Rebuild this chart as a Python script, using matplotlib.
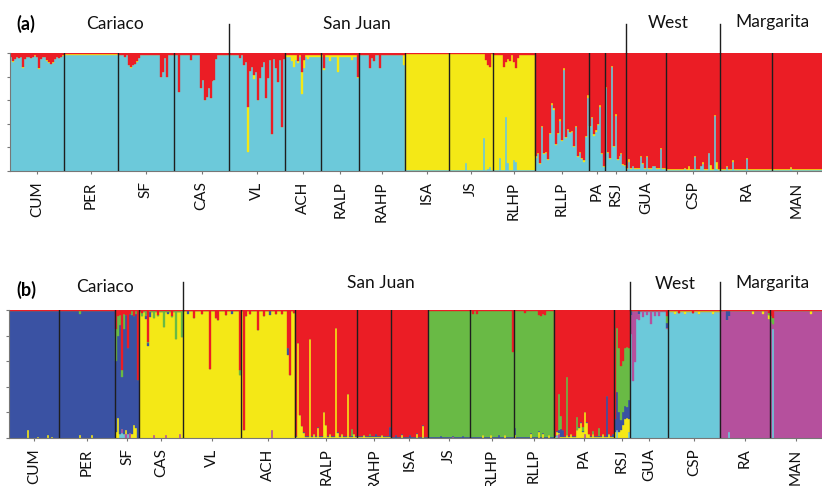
import numpy as np
import matplotlib
matplotlib.use("Agg")
import matplotlib.pyplot as plt
from matplotlib.transforms import blended_transform_factory

plt.rcParams['font.family'] = ['Lato', 'DejaVu Sans']

# ---------------- DATA ----------------
POPS = ['CUM', 'PER', 'SF', 'CAS', 'VL', 'ACH', 'RALP', 'RAHP', 'ISA', 'JS',
        'RLHP', 'RLLP', 'PA', 'RSJ', 'GUA', 'CSP', 'RA', 'MAN']
GROUPS = ['Cariaco', 'San Juan', 'West', 'Margarita']
GROUP_BREAKS = ['VL', 'GUA', 'RA']          # first population of groups 2..4

# ---- panel (a): K = 3 ----
ORDER_A = ['c', 'y', 'r']                   # stacking order, bottom -> top
COLORS_A = {'c': '#6CC9DA', 'y': '#F4E816', 'r': '#EB1D25'}
N_A = [27, 27, 28, 28, 28, 18, 19, 23, 22, 22, 21, 27, 8, 11, 20, 27, 26, 25]
MAIN_A = ['c', 'c', 'c', 'c', 'c', 'c', 'c', 'c', 'y', 'y', 'y',
          'r', 'r', 'r', 'r', 'r', 'r', 'r']
BASE_A = {
    'CUM': {'r': 0.03, 'y': 0.005}, 'PER': {'r': 0.01, 'y': 0.005},
    'SF': {'r': 0.015, 'y': 0.005}, 'CAS': {'r': 0.02}, 'VL': {'r': 0.02},
    'ACH': {'r': 0.02, 'y': 0.015}, 'RALP': {'r': 0.02, 'y': 0.01},
    'RAHP': {'r': 0.02}, 'ISA': {'r': 0.012, 'c': 0.01},
    'JS': {'r': 0.012, 'c': 0.01}, 'RLHP': {'r': 0.015, 'c': 0.01},
    'RLLP': {'c': 0.04, 'y': 0.01}, 'PA': {'c': 0.05, 'y': 0.01},
    'RSJ': {'c': 0.04, 'y': 0.01}, 'GUA': {'c': 0.02, 'y': 0.005},
    'CSP': {'c': 0.01, 'y': 0.005}, 'RA': {'c': 0.005, 'y': 0.01},
    'MAN': {'c': 0.005, 'y': 0.01},
}
ADMIX_A = {
    'CUM': [(1, 'r', .07), (2, 'r', .05), (4, 'r', .04), (6, 'r', .12), (7, 'r', .05),
            (10, 'r', .04), (12, 'r', .02), (14, 'r', .13), (15, 'r', .05), (18, 'r', .06),
            (19, 'r', .08), (20, 'r', .09), (21, 'r', .08), (22, 'r', .05), (24, 'r', .04),
            (26, 'r', .02)],
    'SF': [(3, 'r', .03), (5, 'r', .10), (6, 'r', .12), (7, 'r', .10), (8, 'r', .09),
           (9, 'r', .07), (10, 'r', .04), (21, 'r', .20), (22, 'r', .16), (23, 'r', .04),
           (24, 'r', .20)],
    'CAS': [(2, 'r', .33), (8, 'r', .06), (13, 'r', .30), (14, 'r', .23), (15, 'r', .40),
            (16, 'r', .37), (17, 'r', .30), (18, 'r', .38), (19, 'r', .24), (20, 'r', .23),
            (21, 'r', .05)],
    'VL': [(5, 'r', .04), (7, 'r', .10), (8, 'r', .08), (9, 'r', .46), (9, 'y', .38),
           (10, 'r', .15), (11, 'r', .12), (12, 'r', .19), (12, 'y', .03), (13, 'r', .16),
           (14, 'r', .40), (15, 'r', .21), (16, 'r', .12), (17, 'r', .08), (18, 'r', .38),
           (19, 'r', .21), (20, 'r', .06), (21, 'r', .69), (22, 'r', .05), (23, 'r', .13),
           (24, 'r', .25), (25, 'r', .06), (26, 'r', .63), (27, 'r', .05)],
    'ACH': [(3, 'y', .05), (4, 'y', .10), (5, 'y', .04), (6, 'r', .07), (8, 'r', .16),
            (8, 'y', .19), (9, 'r', .06), (9, 'y', .07), (11, 'y', .03)],
    'RALP': [(1, 'r', .13), (4, 'y', .05), (8, 'y', .14), (15, 'y', .04), (18, 'r', .20)],
    'RAHP': [(5, 'r', .13), (6, 'r', .04), (7, 'r', .07), (10, 'r', .13), (22, 'y', .08)],
    'JS': [(8, 'c', .07), (17, 'c', .28), (18, 'r', .06), (19, 'r', .10), (19, 'c', .02),
           (20, 'r', .12), (20, 'c', .03)],
    'RLHP': [(3, 'c', .11), (5, 'r', .12), (6, 'c', .46), (6, 'r', .08), (7, 'c', .07),
             (7, 'r', .05), (8, 'r', .07), (10, 'r', .08), (10, 'c', .09), (11, 'r', .13),
             (11, 'c', .08), (12, 'r', .04)],
    'RLLP': [(0, 'c', .11), (1, 'c', .14), (2, 'c', .06), (3, 'c', .37), (4, 'c', .14),
             (5, 'c', .15), (6, 'c', .09), (7, 'c', .31), (8, 'c', .56), (9, 'c', .52),
             (10, 'c', .22), (11, 'c', .31), (12, 'c', .42), (13, 'c', .25), (14, 'c', .86),
             (15, 'c', .28), (16, 'c', .35), (17, 'c', .32), (18, 'c', .33), (19, 'c', .20),
             (20, 'c', .37), (21, 'c', .12), (22, 'c', .15), (23, 'c', .10), (24, 'c', .08),
             (25, 'c', .29), (26, 'c', .62), (0, 'y', .02), (8, 'y', .02), (12, 'y', .02),
             (26, 'y', .02)],
    'PA': [(0, 'c', .37), (1, 'c', .45), (2, 'c', .30), (3, 'c', .33), (4, 'c', .39),
           (5, 'c', .54), (6, 'c', .14), (7, 'c', .03), (5, 'y', .02), (3, 'y', .02)],
    'RSJ': [(0, 'c', .70), (1, 'c', .15), (2, 'c', .10), (3, 'c', .88), (4, 'c', .20),
            (5, 'c', .47), (6, 'c', .09), (7, 'c', .12), (8, 'c', .14), (9, 'c', .05),
            (10, 'c', .04)],
    'GUA': [(1, 'c', .08), (1, 'y', .02), (3, 'c', .04), (7, 'c', .12), (8, 'c', .06),
            (10, 'c', .12), (13, 'c', .04), (14, 'c', .04), (17, 'c', .19)],
    'CSP': [(9, 'c', .02), (11, 'y', .03), (14, 'c', .12), (17, 'c', .04), (18, 'c', .06),
            (18, 'y', .02), (21, 'c', .15), (22, 'y', .04), (24, 'c', .47), (25, 'y', .06),
            (25, 'c', .02)],
    'RA': [(3, 'c', .03), (6, 'c', .08), (13, 'c', .10)],
    'MAN': [(9, 'c', .02)],
}

# ---- panel (b): K = 6 ----
ORDER_B = ['c', 'p', 'y', 'b', 'g', 'r']    # stacking order, bottom -> top
COLORS_B = {'c': '#6CC9DA', 'p': '#B5509D', 'y': '#F4E816', 'b': '#3A52A3',
            'g': '#69BA45', 'r': '#EB1D25'}
N_B = [25, 28, 12, 22, 29, 27, 31, 17, 18, 21, 22, 20, 30, 8, 19, 26, 25, 26]
MAIN_B = ['b', 'b', 'b', 'y', 'y', 'y', 'r', 'r', 'r', 'g', 'g', 'g',
          'r', 'r', 'c', 'c', 'p', 'p']
BASE_B = {
    'CUM': {'r': 0.008}, 'PER': {'r': 0.008}, 'SF': {'r': 0.01},
    'CAS': {'r': 0.01, 'g': 0.005}, 'VL': {'r': 0.01}, 'ACH': {'r': 0.01},
    'RALP': {'y': 0.01, 'b': 0.003}, 'RAHP': {'y': 0.008, 'b': 0.005},
    'ISA': {'b': 0.008}, 'JS': {'b': 0.008, 'r': 0.006},
    'RLHP': {'b': 0.006, 'r': 0.008}, 'RLLP': {'b': 0.006, 'r': 0.008},
    'PA': {'y': 0.01, 'b': 0.005}, 'RSJ': {},
    'GUA': {'r': 0.008, 'p': 0.01}, 'CSP': {'r': 0.008, 'y': 0.004},
    'RA': {'r': 0.008}, 'MAN': {'r': 0.008},
}
ADMIX_B = {
    'CUM': [(9, 'y', .06), (14, 'y', .01), (19, 'y', .02), (21, 'y', .01)],
    'PER': [(10, 'g', .02), (10, 'y', .02), (16, 'y', .02)],
    'SF': [(0, 'r', .15), (0, 'g', .25), (0, 'y', .05), (1, 'r', .05), (1, 'g', .15),
           (1, 'y', .16), (2, 'r', .04), (2, 'g', .08), (2, 'c', .03), (3, 'r', .47),
           (3, 'g', .05), (3, 'c', .04), (3, 'p', .03), (4, 'g', .12), (4, 'r', .03),
           (4, 'c', .03), (5, 'r', .04), (5, 'p', .03), (5, 'y', .03), (6, 'r', .30),
           (6, 'c', .03), (7, 'r', .03), (7, 'p', .04), (8, 'g', .03), (8, 'y', .03),
           (9, 'r', .05), (9, 'y', .10), (10, 'y', .08), (10, 'g', .02), (11, 'r', .55)],
    'CAS': [(1, 'g', .03), (1, 'r', .02), (3, 'b', .02), (3, 'g', .04), (4, 'r', .25),
            (4, 'b', .03), (5, 'b', .04), (7, 'g', .05), (7, 'p', .02), (9, 'r', .04),
            (12, 'g', .12), (13, 'p', .02), (14, 'b', .02), (16, 'r', .05), (18, 'g', .22),
            (20, 'p', .03), (21, 'g', .20)],
    'VL': [(2, 'b', .02), (5, 'r', .06), (9, 'r', .03), (13, 'r', .46), (16, 'r', .06),
           (17, 'r', .08), (21, 'r', .04), (24, 'b', .02), (28, 'r', .47), (28, 'g', .04)],
    'ACH': [(1, 'r', .94), (2, 'r', .05), (4, 'r', .03), (8, 'r', .16), (11, 'r', .05),
            (14, 'b', .03), (15, 'p', .06), (17, 'r', .03), (20, 'r', .03), (23, 'r', .30),
            (23, 'b', .05), (24, 'r', .51), (26, 'r', .02)],
    'RALP': [(1, 'y', .74), (2, 'y', .18), (3, 'y', .09), (4, 'y', .04), (7, 'y', .77),
             (9, 'y', .03), (11, 'y', .08), (14, 'y', .20), (15, 'y', .10), (17, 'y', .03),
             (20, 'y', .86), (21, 'y', .04), (23, 'y', .03), (26, 'y', .34), (28, 'g', .06),
             (29, 'y', .03)],
    'RAHP': [(3, 'y', .02), (6, 'g', .02), (9, 'b', .02), (12, 'y', .02), (16, 'b', .08)],
    'ISA': [(2, 'b', .02), (5, 'y', .02), (9, 'b', .02), (12, 'y', .03), (15, 'y', .09)],
    'JS': [(6, 'b', .015), (12, 'p', .01), (17, 'b', .015)],
    'RLHP': [(1, 'r', .03), (3, 'r', .03), (6, 'y', .02), (10, 'y', .02), (14, 'b', .02),
             (17, 'y', .02), (21, 'r', .33)],
    'RLLP': [(0, 'b', .06), (0, 'y', .02), (5, 'r', .02), (8, 'y', .03), (12, 'r', .04),
             (12, 'y', .05), (13, 'r', .05), (14, 'r', .03), (14, 'y', .03), (15, 'r', .04),
             (17, 'y', .02)],
    'PA': [(1, 'y', .03), (1, 'c', .02), (2, 'g', .28), (2, 'p', .03), (2, 'b', .02),
           (3, 'g', .10), (3, 'b', .06), (4, 'b', .05), (6, 'g', .45), (6, 'y', .02),
           (8, 'y', .03), (11, 'g', .10), (11, 'y', .06), (12, 'y', .08), (13, 'y', .12),
           (14, 'y', .05), (14, 'g', .03), (15, 'y', .17), (15, 'p', .03), (16, 'y', .12),
           (17, 'y', .03), (19, 'y', .03), (19, 'g', .02), (22, 'g', .06), (24, 'y', .03),
           (26, 'b', .32), (27, 'y', .03), (29, 'b', .02)],
    'RSJ': [(0, 'b', .10), (0, 'y', .05), (1, 'c', .06), (1, 'b', .30), (1, 'g', .50),
            (2, 'y', .05), (2, 'b', .15), (2, 'g', .50), (3, 'y', .06), (3, 'b', .08),
            (3, 'g', .42), (4, 'y', .10), (4, 'b', .10), (4, 'g', .40), (5, 'y', .15),
            (5, 'b', .10), (5, 'g', .45), (6, 'y', .16), (6, 'b', .08), (6, 'g', .47),
            (7, 'y', .10), (7, 'b', .15), (7, 'g', .40), (7, 'c', .05)],
    'GUA': [(0, 'p', .15), (0, 'b', .03), (1, 'p', .55), (2, 'p', .40), (3, 'p', .06),
            (4, 'p', .05), (4, 'b', .02), (6, 'p', .05), (8, 'p', .03), (10, 'p', .10),
            (12, 'p', .04), (14, 'p', .04), (18, 'r', .05), (18, 'g', .05), (18, 'b', .04)],
    'CSP': [(3, 'y', .02), (5, 'r', .02), (8, 'y', .02), (12, 'r', .02), (15, 'y', .02),
            (22, 'y', .02)],
    'RA': [(3, 'b', .07), (4, 'c', .05), (4, 'b', .04), (16, 'y', .02), (21, 'y', .02),
           (24, 'y', .03), (24, 'g', .02), (24, 'r', .02)],
    'MAN': [(0, 'r', .05), (0, 'g', .04), (1, 'c', .85), (1, 'g', .05), (1, 'r', .06),
            (20, 'y', .02)],
}


# ---------------- BUILD Q MATRICES ----------------
def build(counts, main, base, admix, order):
    Q = {k: [] for k in order}
    for p, n, m in zip(POPS, counts, main):
        spikes = {}
        for i, k, q in admix.get(p, []):
            spikes.setdefault(i, {})[k] = q
        for i in range(n):
            row = dict(base.get(p, {}))
            row.update(spikes.get(i, {}))
            row.pop(m, None)
            row[m] = max(0.0, 1.0 - sum(row.values()))
            for k in order:
                Q[k].append(row.get(k, 0.0))
    return {k: np.array(v) for k, v in Q.items()}


def draw_panel(ax, counts, main, base, admix, order, colors):
    Q = build(counts, main, base, admix, order)
    N = sum(counts)
    x = np.arange(N)
    bottom = np.zeros(N)
    for k in order:
        ax.bar(x, Q[k], bottom=bottom, width=1.0, align='edge', color=colors[k],
               edgecolor=colors[k], linewidth=0.25)
        bottom += Q[k]
    edges = np.cumsum([0] + counts)
    for e in edges[1:-1]:
        ax.axvline(e, color='#1e1e1e', lw=1.0, zorder=5)
    centers = (edges[:-1] + edges[1:]) / 2
    ax.set_xlim(0, N)
    ax.set_ylim(0, 1)
    ax.set_xticks(centers)
    ax.set_xticklabels(POPS, rotation=90, fontsize=11, color='#111111')
    ax.set_yticks(np.arange(0, 1.01, 0.2))
    ax.set_yticklabels([])
    ax.tick_params(axis='x', length=2.5, width=0.8, color='#777777', pad=5)
    ax.tick_params(axis='y', length=2, width=0.8, color='#777777')
    for s in ['top', 'right']:
        ax.spines[s].set_visible(False)
    for s in ['left', 'bottom']:
        ax.spines[s].set_color('#777777')
        ax.spines[s].set_linewidth(0.8)
    return edges


W, H = 822, 486
fig = plt.figure(figsize=(W / 100, H / 100), dpi=100)


def fx(px):
    return px / W


def fy(py):
    return 1 - py / H


axA = fig.add_axes([fx(10), fy(171), fx(812), 118 / H])
axB = fig.add_axes([fx(9), fy(438), fx(813), 128 / H])

edgesA = draw_panel(axA, N_A, MAIN_A, BASE_A, ADMIX_A, ORDER_A, COLORS_A)
edgesB = draw_panel(axB, N_B, MAIN_B, BASE_B, ADMIX_B, ORDER_B, COLORS_B)


def header(ax, edges, letter, ytxt, yline_top, ytop_axes, gx):
    tr = blended_transform_factory(ax.transData, fig.transFigure)
    for g in GROUP_BREAKS:
        xb = edges[POPS.index(g)]
        ax.plot([xb, xb], [fy(yline_top), fy(ytop_axes)], color='#1e1e1e', lw=1.0,
                transform=tr, clip_on=False)
    fig.text(fx(26), fy(ytxt[0]), letter, fontsize=13, fontweight='bold',
             ha='center', va='center')
    for name, (x, y) in zip(GROUPS, zip(gx, ytxt[1:])):
        fig.text(fx(x), fy(y), name, fontsize=12.5, ha='center', va='center',
                 color='#111111')


header(axA, edgesA, '(a)', [24, 24, 24, 23, 22], 24, 53, [115, 357, 668, 772])
header(axB, edgesB, '(b)', [290, 287, 283, 284, 283], 282, 310, [105, 381, 675, 772])

fig.savefig('out.png', dpi=100)
